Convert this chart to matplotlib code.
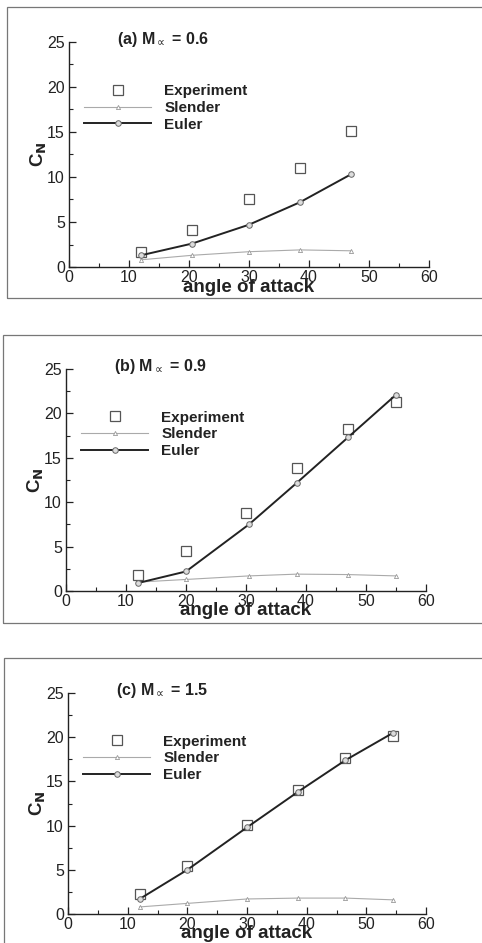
import matplotlib
matplotlib.use('Agg')
import matplotlib.pyplot as plt
from matplotlib.patches import Rectangle
from matplotlib.ticker import MultipleLocator

plt.rcParams['font.family'] = ['Liberation Sans', 'DejaVu Sans']
plt.rcParams['mathtext.fontset'] = 'dejavusans'

# ---- data
titles = ['(a) M$_{\\propto}$ = 0.6', '(b) M$_{\\propto}$ = 0.9', '(c) M$_{\\propto}$ = 1.5']

exp_x_a = [12, 20.5, 30, 38.5, 47]
exp_y_a = [1.7, 4.1, 7.6, 11.0, 15.1]
eul_x_a = [12, 20.5, 30, 38.5, 47]
eul_y_a = [1.3, 2.6, 4.7, 7.2, 10.3]
sle_x_a = [12, 20.5, 30, 38.5, 47]
sle_y_a = [0.8, 1.3, 1.7, 1.9, 1.8]

exp_x_b = [12, 20, 30, 38.5, 47, 55]
exp_y_b = [1.8, 4.5, 8.8, 13.8, 18.2, 21.3]
eul_x_b = [12, 20, 30.5, 38.5, 47, 55]
eul_y_b = [0.9, 2.2, 7.5, 12.2, 17.3, 22.1]
sle_x_b = [12, 20, 30.5, 38.5, 47, 55]
sle_y_b = [1.0, 1.3, 1.7, 1.9, 1.85, 1.7]

exp_x_c = [12, 20, 30, 38.5, 46.5, 54.5]
exp_y_c = [2.3, 5.4, 10.1, 14.0, 17.6, 20.1]
eul_x_c = [12, 20, 30, 38.5, 46.5, 54.5]
eul_y_c = [1.7, 5.0, 9.8, 13.8, 17.4, 20.5]
sle_x_c = [12, 20, 30, 38.5, 46.5, 54.5]
sle_y_c = [0.8, 1.2, 1.7, 1.8, 1.8, 1.6]

panels = [
    (titles[0], exp_x_a, exp_y_a, sle_x_a, sle_y_a, eul_x_a, eul_y_a),
    (titles[1], exp_x_b, exp_y_b, sle_x_b, sle_y_b, eul_x_b, eul_y_b),
    (titles[2], exp_x_c, exp_y_c, sle_x_c, sle_y_c, eul_x_c, eul_y_c),
]

W, H = 482, 943
fig = plt.figure(figsize=(W / 100, H / 100), dpi=100)

# axes boxes in pixels: left, top, right, bottom
ax_px = [(69, 42, 429, 267), (66, 369, 426, 591), (68, 693, 426, 914)]
frame_px = [(7, 7, 490, 298), (3, 335, 490, 623), (4, 658, 490, 950)]

for (l, t, r, b) in frame_px:
    fig.add_artist(Rectangle((l / W, 1 - b / H), (r - l) / W, (b - t) / H,
                             transform=fig.transFigure, fill=False,
                             edgecolor='#777777', lw=0.9))

ink = '#222222'
for (title, ex, ey, sx, sy, ux, uy), (l, t, r, b) in zip(panels, ax_px):
    ax = fig.add_axes([l / W, 1 - b / H, (r - l) / W, (b - t) / H])
    ax.plot(ex, ey, ls='none', marker='s', ms=7.5, mfc='white', mec='#555555',
            mew=0.9, label='Experiment', zorder=3)
    ax.plot(sx, sy, color='#aaaaaa', lw=0.8, marker='^', ms=3, mfc='white',
            mec='#999999', mew=0.6, label='Slender')
    ax.plot(ux, uy, color=ink, lw=1.4, marker='o', ms=4, mfc='#dddddd',
            mec='#666666', mew=0.7, label='Euler', zorder=4)

    ax.set_xlim(0, 60)
    ax.set_ylim(0, 25)
    ax.xaxis.set_major_locator(MultipleLocator(10))
    ax.xaxis.set_minor_locator(MultipleLocator(5))
    ax.yaxis.set_major_locator(MultipleLocator(5))
    ax.yaxis.set_minor_locator(MultipleLocator(2.5))
    ax.tick_params(which='both', direction='in', colors=ink, labelsize=11.5,
                   top=False, right=False)
    ax.tick_params(which='major', length=5, width=0.9, pad=2)
    ax.tick_params(which='minor', length=3, width=0.8)
    ax.tick_params(axis='y', pad=3)
    for s in ['top', 'right']:
        ax.spines[s].set_visible(False)
    for s in ['left', 'bottom']:
        ax.spines[s].set_color(ink)
        ax.spines[s].set_linewidth(1.0)
    ax.patch.set_visible(False)

    ax.text(0.5, -0.09, 'angle of attack', transform=ax.transAxes,
            ha='center', va='center', fontsize=13.5, fontweight='bold', color=ink)
    ax.text(-0.085, 0.5, 'C$_\\mathbf{N}$', transform=ax.transAxes, rotation=90,
            ha='center', va='center', fontsize=13.5, fontweight='bold', color=ink)
    ax.text(8, 25.3, title, ha='left', va='center', fontsize=11.5,
            fontweight='bold', color=ink)

    ax.legend(loc='upper left', bbox_to_anchor=(0.042, 0.812), frameon=False,
              handlelength=4.4, handletextpad=0.85, labelspacing=0.18,
              borderpad=0, borderaxespad=0, numpoints=1,
              prop={'weight': 'bold', 'size': 11})
    for txt in ax.get_legend().get_texts():
        txt.set_color(ink)

fig.savefig('out.png', dpi=100)
